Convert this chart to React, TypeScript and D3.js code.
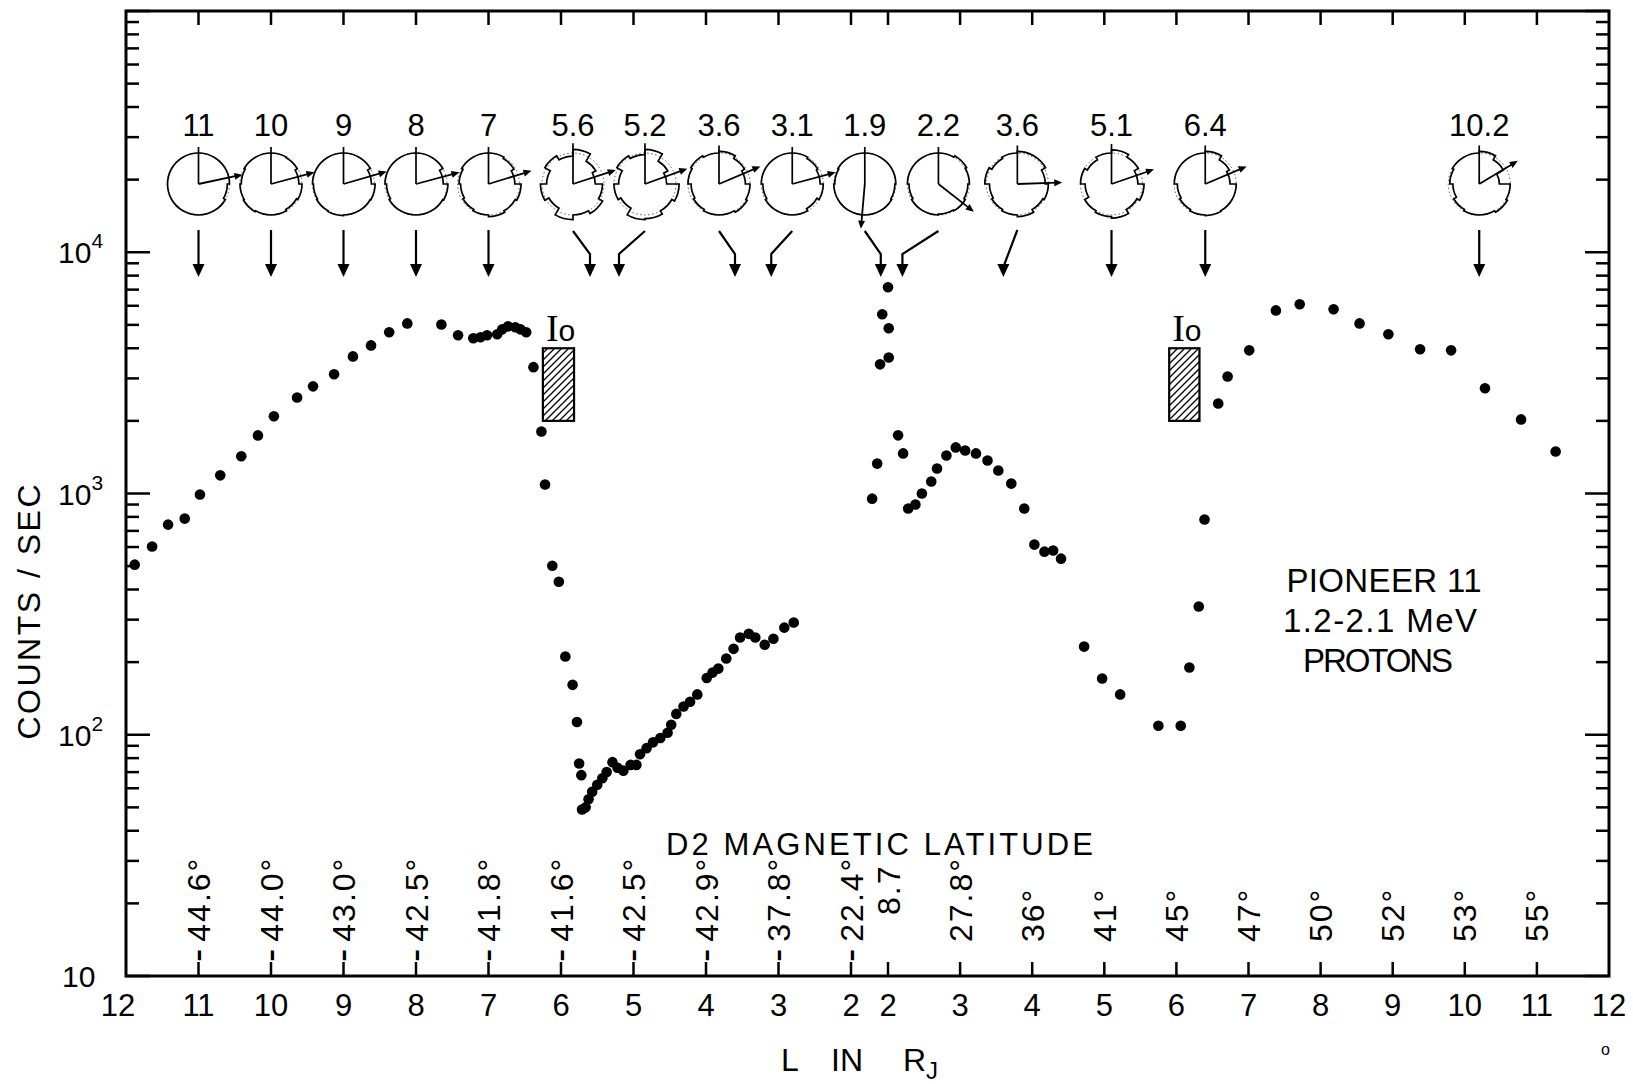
import React, { useRef, useEffect } from "react";
import * as d3 from "d3";

// inbound pass: L (R_J) and counts/sec
const inboundL = [
  11.88, 11.64, 11.42, 11.19, 10.98, 10.7, 10.41, 10.18, 9.96, 9.64, 9.42, 9.13, 8.87, 8.62, 8.37, 8.12,
  7.65, 7.42, 7.21, 7.11, 7.02, 6.88, 6.81, 6.73, 6.63, 6.56, 6.48,
  6.38, 6.27, 6.22, 6.12, 6.03, 5.94, 5.84, 5.78, 5.75, 5.72, 5.71,
  5.66, 5.62, 5.57, 5.5, 5.43, 5.37, 5.29, 5.22, 5.14, 5.04, 4.96, 4.91, 4.82, 4.73, 4.63, 4.53, 4.48, 4.41, 4.31, 4.22, 4.12,
  3.99, 3.91, 3.83, 3.72, 3.62, 3.53, 3.41, 3.32, 3.19, 3.07, 2.92, 2.79,
];
const inboundCounts = [
  507, 603, 743, 787, 991, 1189, 1426, 1741, 2089, 2500, 2780, 3120, 3700, 4110, 4660, 5070,
  5020, 4530, 4400, 4440, 4530, 4570, 4790, 4930, 4890, 4790, 4660,
  3340, 1806, 1090, 502, 431, 211, 161, 113, 76, 68, 49,
  50, 54, 58, 62, 66, 70, 77, 73, 71, 75, 75, 83, 88, 93, 97, 102, 110, 122, 131, 137, 147,
  172, 181, 188, 207, 227, 253, 262, 253, 236, 250, 278, 292,
];

// outbound pass
const outboundL = [
  1.78, 1.85, 1.89, 1.92, 2.0, 2.01, 2.01,
  2.14, 2.21, 2.28, 2.38, 2.47, 2.6, 2.68, 2.81, 2.94, 3.07, 3.22, 3.38, 3.53, 3.71, 3.89, 4.03, 4.17, 4.29, 4.4,
  4.72, 4.97, 5.22,
  5.75, 6.06, 6.18, 6.31, 6.39, 6.58, 6.71, 7.01,
  7.38, 7.71, 8.18, 8.54, 8.94, 9.38, 9.81, 10.28, 10.78, 11.26,
];
const outboundCounts = [
  952, 1330, 3430, 5530, 7160, 4840, 3660,
  1742, 1466, 867, 900, 1000, 1122, 1270, 1438, 1553, 1508, 1466, 1371, 1245, 1099, 867, 614, 574, 580, 537,
  232, 171, 147,
  109, 109, 190, 340, 780, 2361, 3056, 3920,
  5740, 6090, 5800, 5070, 4570, 3960, 3920, 2730, 2028, 1493,
];

// axis ticks
const inboundTicks = [12, 11, 10, 9, 8, 7, 6, 5, 4, 3, 2];
const outboundTicks = [2, 3, 4, 5, 6, 7, 8, 9, 10, 11, 12];
const decadeExps = [1, 2, 3, 4];

// D2 magnetic latitude labels
const latInboundL = [11, 10, 9, 8, 7, 6, 5, 4, 3, 2];
const latInboundText = ["-44.6°", "-44.0°", "-43.0°", "-42.5°", "-41.8°", "-41.6°", "-42.5°", "-42.9°", "-37.8°", "-22.4°"];
const latOutboundL = [2, 3, 4, 5, 6, 7, 8, 9, 10, 11];
const latOutboundText = ["8.7", "27.8°", "36°", "41°", "45°", "47°", "50°", "52°", "53°", "55°"];

// pitch angle distributions (label = L where taken)
const pitchLabels = ["11", "10", "9", "8", "7", "5.6", "5.2", "3.6", "3.1", "1.9", "2.2", "3.6", "5.1", "6.4", "10.2"];
const pitchBranch = ["in", "in", "in", "in", "in", "in", "in", "in", "in", "out", "out", "out", "out", "out", "out"];
const pitchArrowDeg = [12, 15, 16, 15, 17, 18, 20, 23, 15, -95, -38, 2, 19, 23, 31];
// relative radius in 12 sectors, clockwise from top
const pitchSectors = [
  [1, 1, 1, 0.93, 1, 1, 1, 1, 1, 1, 1, 1],
  [1, 0.98, 0.9, 1.0, 0.95, 1, 1, 1.03, 1, 0.96, 1, 1],
  [1, 1, 0.9, 1.02, 1, 1, 1.02, 1, 0.97, 1, 1, 1],
  [1, 1, 0.88, 1.03, 1, 1, 1, 1, 0.95, 1, 1, 1],
  [1, 0.95, 0.85, 1.05, 1, 1.05, 1, 0.95, 0.9, 0.95, 1, 1],
  [1.12, 0.85, 0.72, 0.95, 1.1, 1.0, 1.15, 0.9, 1.05, 0.85, 1.05, 0.9],
  [1.12, 0.85, 0.7, 1.1, 1.0, 1.12, 1.15, 0.9, 1.0, 0.85, 1.05, 0.95],
  [1.05, 0.95, 0.85, 1.0, 1.05, 1, 1, 0.95, 0.9, 1, 1.05, 1],
  [1, 0.95, 0.9, 1.0, 0.92, 1, 1, 1, 0.95, 1, 1, 1],
  [1, 1, 1, 0.97, 1, 1, 1, 1, 1, 0.97, 1, 1],
  [1, 1.05, 1, 0.95, 1, 0.97, 1, 1, 0.95, 1, 1, 1],
  [1.05, 1.05, 0.9, 1.0, 0.95, 1.05, 1, 0.95, 0.9, 1.05, 0.95, 1],
  [1.1, 1.0, 0.85, 1.05, 0.95, 1.1, 1.05, 1.0, 0.85, 1.0, 0.9, 1.0],
  [1.05, 0.9, 0.8, 1.0, 1.0, 1.02, 1, 0.95, 0.9, 1, 1, 1],
  [1.05, 0.9, 0.65, 1.0, 1.05, 1, 1, 0.95, 0.85, 0.95, 1, 1],
];

// Io crossing (L range on each pass) and count band of the hatched box
const ioInboundL = [6.25, 5.82];
const ioOutboundL = [5.9, 6.32];
const ioCounts = [2000, 4000];

// layout (pixels)
const W = 1633;
const H = 1084;
const frame = { left: 126, right: 1609, top: 11, bottom: 976 };
const inboundEnd = 851;
const outboundStart = 888;
const diagramNudge = [0, 0, 0, 0, 0, -17, 26, -16, 21, -16, 36, 14, 0, 0, 0];
const latOutboundLift = [27, 0, 0, 0, 0, 0, 0, 0, 0, 0];
const FONT = "'Liberation Sans', Arial, sans-serif";

const App = () => {
  const svgRef = useRef<SVGSVGElement>(null);

  useEffect(() => {
    const svg = d3.select(svgRef.current);
    svg.selectAll("*").remove();

    const xIn = d3.scaleLinear().domain([12, 2]).range([frame.left, inboundEnd]);
    const xOut = d3.scaleLinear().domain([2, 12]).range([outboundStart, frame.right]);
    const y = d3.scaleLog().domain([10, 1e5]).range([frame.bottom, frame.top]);
    const xOf = (b: string, L: number) => (b === "in" ? xIn(L) : xOut(L));

    // hatching for the Io boxes
    const pat = svg
      .append("defs")
      .append("pattern")
      .attr("id", "hatch")
      .attr("patternUnits", "userSpaceOnUse")
      .attr("width", 7)
      .attr("height", 7);
    pat
      .append("path")
      .attr("d", "M-1,1 l2,-2 M0,7 l7,-7 M6,8 l2,-2")
      .attr("stroke", "#000")
      .attr("stroke-width", 1.3);

    // frame
    svg
      .append("rect")
      .attr("x", frame.left)
      .attr("y", frame.top)
      .attr("width", frame.right - frame.left)
      .attr("height", frame.bottom - frame.top)
      .attr("fill", "none")
      .attr("stroke", "#000")
      .attr("stroke-width", 3);

    // log ticks on left and right
    const yt = y.ticks();
    const isMajor = (t: number) => Math.abs(Math.log10(t) - Math.round(Math.log10(t))) < 1e-6;
    const yTickG = svg.append("g").attr("stroke", "#000").attr("stroke-width", 2.5);
    yt.forEach((t) => {
      const len = isMajor(t) ? 24 : 13;
      yTickG.append("line").attr("x1", frame.left).attr("x2", frame.left + len).attr("y1", y(t)).attr("y2", y(t));
      yTickG.append("line").attr("x1", frame.right).attr("x2", frame.right - len).attr("y1", y(t)).attr("y2", y(t));
    });

    // y labels
    decadeExps.forEach((e) => {
      const v = Math.pow(10, e);
      const t = svg
        .append("text")
        .attr("x", e === 1 ? 62 : 58)
        .attr("y", y(v) + 11)
        .attr("font-family", FONT)
        .attr("font-size", 30)
        .text("10");
      if (e > 1) t.append("tspan").attr("dy", -15).attr("font-size", 21).text(String(e));
    });

    // x ticks top and bottom
    const xTickG = svg.append("g").attr("stroke", "#000").attr("stroke-width", 2.5);
    const allTicks = [
      ...inboundTicks.filter((d) => d !== 12).map((d) => xIn(d)),
      ...outboundTicks.filter((d) => d !== 12).map((d) => xOut(d)),
    ];
    allTicks.forEach((x) => {
      xTickG.append("line").attr("x1", x).attr("x2", x).attr("y1", frame.bottom).attr("y2", frame.bottom - 14);
      xTickG.append("line").attr("x1", x).attr("x2", x).attr("y1", frame.top).attr("y2", frame.top + 14);
    });

    // x tick labels
    const xl = svg.append("g").attr("font-family", FONT).attr("font-size", 31).attr("text-anchor", "middle");
    inboundTicks.forEach((d) => {
      xl.append("text").attr("x", xIn(d) - (d === 12 ? 8 : 0)).attr("y", 1016).text(String(d));
    });
    outboundTicks.forEach((d) => {
      xl.append("text").attr("x", xOut(d)).attr("y", 1016).text(String(d));
    });

    // latitude labels (rotated)
    const latG = svg.append("g").attr("font-family", FONT).attr("font-size", 32);
    const latLabel = (x: number, txt: string, lift: number) => {
      const g = latG.append("g").attr("transform", `translate(${x},${942 - lift}) rotate(-90)`);
      const neg = txt.startsWith("-");
      const t = g.append("text").attr("x", neg ? -20 : 0).attr("dy", "0.36em");
      if (neg) {
        t.append("tspan").attr("font-size", 40).text("-");
        t.append("tspan").attr("dx", 7).attr("letter-spacing", 2).text(txt.slice(1));
      } else {
        t.attr("letter-spacing", 2).text(txt);
      }
    };
    latInboundL.forEach((L, i) => latLabel(xIn(L), latInboundText[i], 0));
    latOutboundL.forEach((L, i) => latLabel(xOut(L), latOutboundText[i], latOutboundLift[i]));

    svg
      .append("text")
      .attr("x", 666)
      .attr("y", 855)
      .attr("font-family", FONT)
      .attr("font-size", 31)
      .attr("textLength", 427)
      .attr("lengthAdjust", "spacing")
      .text("D2 MAGNETIC LATITUDE");

    // axis titles
    const xt = svg.append("text").attr("y", 1071).attr("font-family", FONT).attr("font-size", 32);
    xt.append("tspan").attr("x", 781).text("L");
    xt.append("tspan").attr("x", 831).text("IN");
    xt.append("tspan").attr("x", 903).text("R");
    xt.append("tspan").attr("dy", 8).attr("font-size", 24).text("J");

    svg
      .append("text")
      .attr("transform", "translate(40,612) rotate(-90)")
      .attr("text-anchor", "middle")
      .attr("font-family", FONT)
      .attr("font-size", 32)
      .attr("textLength", 255)
      .attr("lengthAdjust", "spacing")
      .text("COUNTS / SEC");

    // legend
    const leg = svg.append("g").attr("font-family", FONT).attr("font-size", 33).attr("text-anchor", "middle");
    leg.append("text").attr("x", 1384).attr("y", 592).attr("textLength", 195).attr("lengthAdjust", "spacing").text("PIONEER 11");
    leg.append("text").attr("x", 1380).attr("y", 632).attr("textLength", 194).attr("lengthAdjust", "spacing").text("1.2-2.1  MeV");
    leg.append("text").attr("x", 1378).attr("y", 672).attr("textLength", 150).attr("lengthAdjust", "spacing").text("PROTONS");

    svg.append("text").attr("x", 1601).attr("y", 1055).attr("font-family", FONT).attr("font-size", 16).text("o");

    // Io boxes
    const ioBox = (x0: number, x1: number) => {
      svg
        .append("rect")
        .attr("x", Math.min(x0, x1))
        .attr("y", y(ioCounts[1]))
        .attr("width", Math.abs(x1 - x0))
        .attr("height", y(ioCounts[0]) - y(ioCounts[1]))
        .attr("fill", "url(#hatch)")
        .attr("stroke", "#000")
        .attr("stroke-width", 2.2);
      const t = svg
        .append("text")
        .attr("x", Math.min(x0, x1) + 3)
        .attr("y", y(ioCounts[1]) - 7)
        .attr("font-family", "'Liberation Serif', 'DejaVu Serif', serif")
        .attr("font-size", 38)
        .text("I");
      t.append("tspan").attr("font-size", 30).attr("font-family", FONT).text("o");
    };
    ioBox(xIn(ioInboundL[0]), xIn(ioInboundL[1]));
    ioBox(xOut(ioOutboundL[0]), xOut(ioOutboundL[1]));

    // data points
    const pts = [
      ...inboundL.map((L, i) => ({ x: xIn(L), v: inboundCounts[i] })),
      ...outboundL.map((L, i) => ({ x: xOut(L), v: outboundCounts[i] })),
    ];
    svg
      .append("g")
      .selectAll("circle")
      .data(pts)
      .enter()
      .append("circle")
      .attr("cx", (d) => d.x)
      .attr("cy", (d) => y(d.v))
      .attr("r", 5.3)
      .attr("fill", "#000");

    // pitch angle diagrams + pointer arrows
    const head = (g: any, tx: number, ty: number, ux: number, uy: number, s: number, w: number) => {
      const bx = tx - ux * s;
      const by = ty - uy * s;
      g.append("path")
        .attr("d", `M${tx},${ty}L${bx - uy * w},${by + ux * w}L${bx + uy * w},${by - ux * w}Z`)
        .attr("fill", "#000");
    };
    const cy = 184;
    const r = 31;
    pitchLabels.forEach((lab, i) => {
      const tx = xOf(pitchBranch[i], parseFloat(lab));
      const cx = tx + diagramNudge[i];
      const g = svg.append("g");
      g.append("text")
        .attr("x", cx)
        .attr("y", 136)
        .attr("text-anchor", "middle")
        .attr("font-family", FONT)
        .attr("font-size", 31)
        .text(lab);

      g.append("circle")
        .attr("cx", cx)
        .attr("cy", cy)
        .attr("r", r)
        .attr("fill", "none")
        .attr("stroke", "#555")
        .attr("stroke-width", 1)
        .attr("stroke-dasharray", "1.5,2.5");

      const p = d3.path();
      pitchSectors[i].forEach((m, k) => {
        const a0 = -Math.PI / 2 + (k * Math.PI) / 6;
        p.arc(cx, cy, r * m, a0, a0 + Math.PI / 6);
      });
      p.closePath();
      g.append("path").attr("d", p.toString()).attr("fill", "none").attr("stroke", "#000").attr("stroke-width", 1.7);

      // reference radius (up)
      g.append("line")
        .attr("x1", cx)
        .attr("y1", cy)
        .attr("x2", cx)
        .attr("y2", cy - r * pitchSectors[i][0] - 6)
        .attr("stroke", "#000")
        .attr("stroke-width", 1.7);

      // field direction arrow
      const a = (pitchArrowDeg[i] * Math.PI) / 180;
      const ux = Math.cos(a);
      const uy = -Math.sin(a);
      const len = r * 1.45;
      const ex = cx + ux * len;
      const ey = cy + uy * len;
      g.append("line")
        .attr("x1", cx)
        .attr("y1", cy)
        .attr("x2", ex - ux * 5)
        .attr("y2", ey - uy * 5)
        .attr("stroke", "#000")
        .attr("stroke-width", 1.8);
      head(g, ex, ey, ux, uy, 8, 3.5);

      // pointer to the data
      const tipY = 277;
      const bent = Math.abs(diagramNudge[i]) > 15;
      const d = bent
        ? `M${cx},231L${tx},254L${tx},${tipY - 10}`
        : `M${cx},230L${tx},${tipY - 10}`;
      g.append("path").attr("d", d).attr("fill", "none").attr("stroke", "#000").attr("stroke-width", 2.2);
      head(g, tx, tipY, 0, 1, 13, 6);
    });
  }, []);

  return (
    <svg
      ref={svgRef}
      width={W}
      height={H}
      style={{ position: "absolute", left: 0, top: 0, display: "block", background: "#fff" }}
    />
  );
};

export default App;
